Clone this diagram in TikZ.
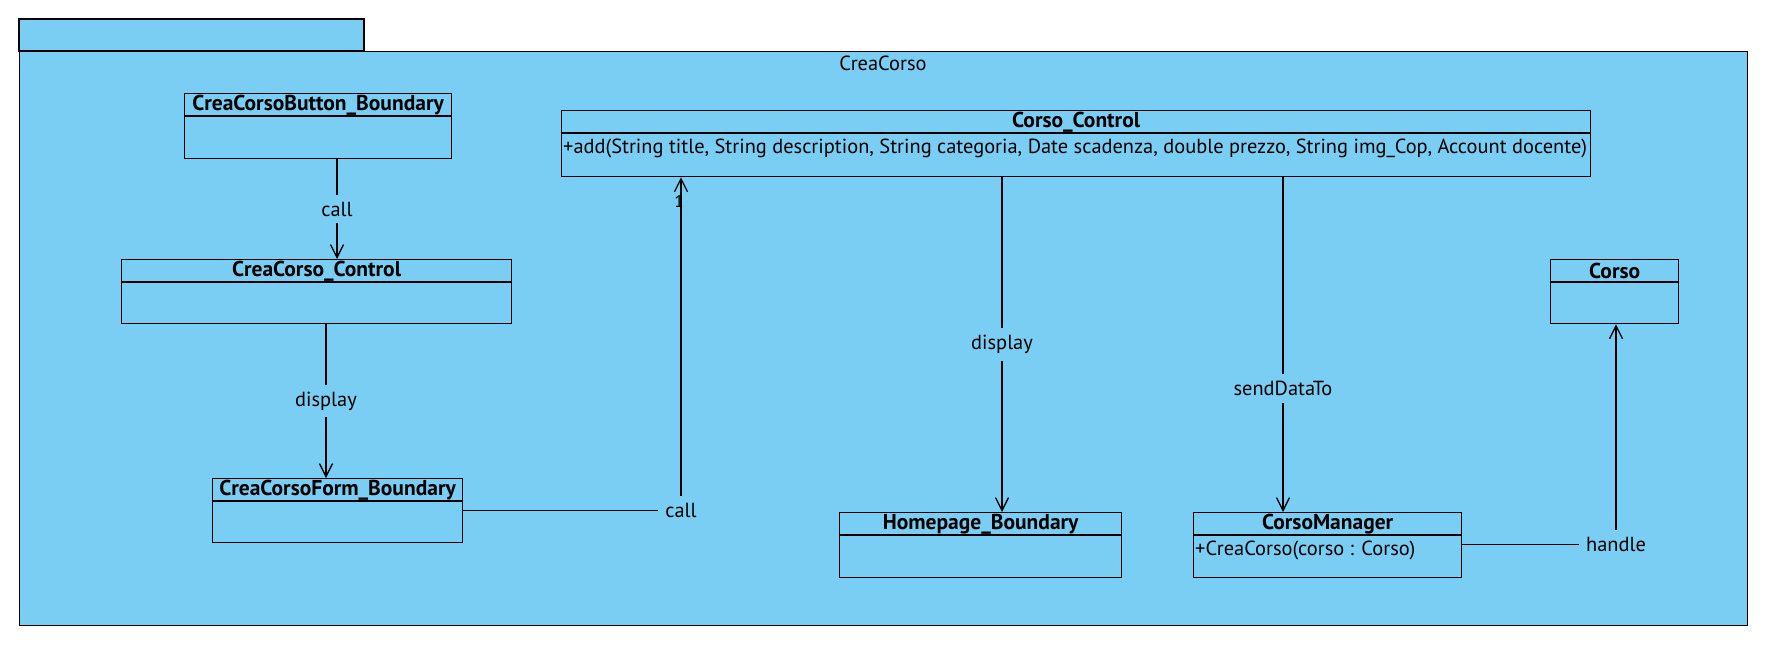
\documentclass[tikz,border=0pt]{standalone}
\usepackage{fontspec}
\setmainfont{PT Sans}
\usetikzlibrary{arrows.meta,calc}
\definecolor{pkgblue}{RGB}{122,206,244}
\newcommand\umlclass[7]{%
  \node[clsbox, anchor=north west, minimum width={#4-#2}, minimum height={#5-#3}] (#1) at (#2,#3) {};
  \draw[thin line] ($(#1.north west)+(0,23)$) -- ($(#1.north east)+(0,23)$);
  \node[font=\bfseries\fontsize{21.5}{23}\selectfont, inner sep=0pt] at ($(#1.north)+(0,12)$) {#6};
  \node[anchor=west, inner sep=0pt, font=\fontsize{20.4}{22}\selectfont] at ($(#1.north west)+(2,38)$) {#7};
}
\begin{document}
\begin{tikzpicture}[x=1pt,y=-1pt,
  thin line/.style={line width=1.3pt},
  clsbox/.style={draw, line width=1.3pt, fill=pkgblue, inner sep=0pt},
  arr/.style={line width=1.3pt, -{Straight Barb[length=13pt,width=13pt,line width=1.3pt]}},
  lbl/.style={fill=pkgblue, inner sep=7pt, font=\fontsize{20.4}{22}\selectfont},
  mult/.style={inner sep=0pt, font=\fontsize{17}{19}\selectfont}]
\useasboundingbox (0,0) rectangle (1766,646);
\fill[white] (0,0) rectangle (1766,646);
% package
\draw[line width=1.3pt, fill=pkgblue] (19,19) rectangle (364,51);
\node[draw, line width=1.3pt, fill=pkgblue, anchor=north west, minimum width=1728pt, minimum height=574pt, inner sep=0pt] (pkg) at (19,51) {};
\node[font=\fontsize{20.4}{22}\selectfont] (pkgname) at (883,63) {CreaCorso};
% classes
\umlclass{btn}{184}{93}{451}{158}{CreaCorsoButton\_Boundary}{}
\umlclass{ccc}{121}{259}{511}{323}{CreaCorso\_Control}{}
\umlclass{form}{212}{478}{462}{542}{CreaCorsoForm\_Boundary}{}
\umlclass{cc}{561}{110}{1590}{176}{Corso\_Control}{+add(String title, String description, String categoria, Date scadenza, double prezzo, String img\_Cop, Account docente)}
\umlclass{home}{839}{512}{1121}{577}{Homepage\_Boundary}{}
\umlclass{cm}{1193}{512}{1461}{577}{CorsoManager}{+CreaCorso(corso : Corso)}
\umlclass{corso}{1550}{259}{1678}{323}{Corso}{}
% line x positions
\coordinate (xa) at (337,0);
\coordinate (xb) at (326,0);
\coordinate (xc) at (681,0);
\coordinate (xd) at (1002,0);
\coordinate (xe) at (1283,0);
\coordinate (xf) at (1616,0);
% connectors
\draw[arr] (btn.south -| xa) -- node[lbl]{call} (ccc.north -| xa);
\draw[arr] (ccc.south -| xb) -- node[lbl]{display} (form.north -| xb);
\draw[arr] (form.east) -| node[lbl]{call} (cc.south -| xc);
\node[mult] (m1) at ($(cc.south -| xc)+(-2,24)$) {1};
\draw[arr] (cc.south -| xd) -- node[lbl]{display} (home.north -| xd);
\draw[arr] (cc.south -| xe) -- node[lbl, pos=0.63]{sendDataTo} (cm.north -| xe);
\draw[arr] ($(cm.east)+(0,-1)$) -| node[lbl]{handle} (corso.south -| xf);
\end{tikzpicture}
\end{document}
